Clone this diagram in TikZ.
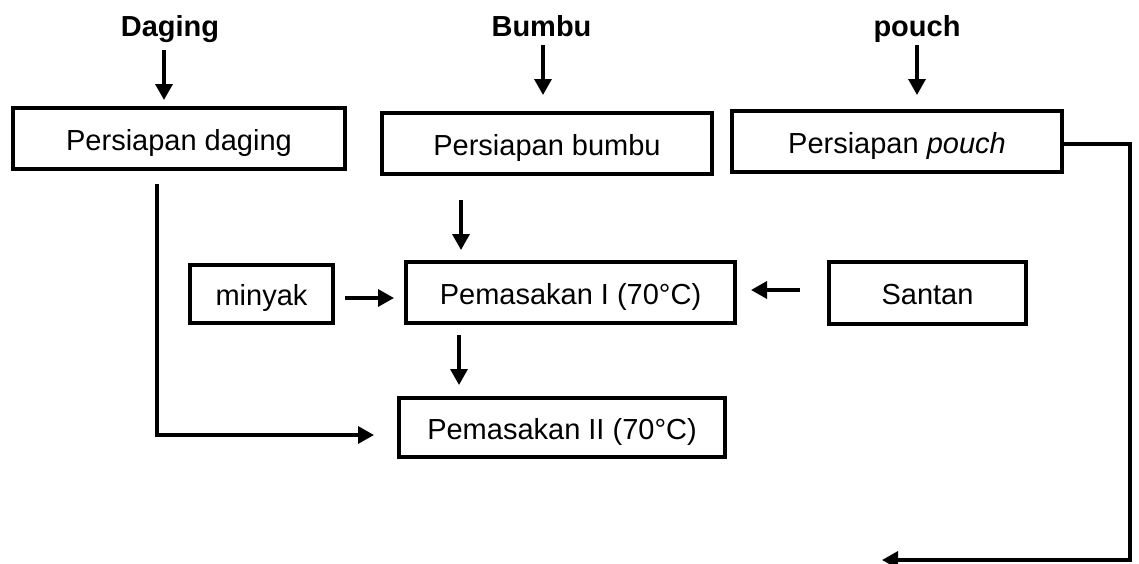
\documentclass[tikz,border=0pt]{standalone}
\usepackage{fontspec}
\setmainfont{Liberation Sans}
\usetikzlibrary{arrows.meta}
\begin{document}
\begin{tikzpicture}[x=1pt,y=-1pt,
  box/.style={draw=black,line width=3.4pt,rectangle,inner sep=0pt,
    text height=23pt,text depth=0pt,
    font=\fontsize{29}{34}\selectfont},
  lbl/.style={font=\fontsize{29}{34}\selectfont\bfseries,anchor=base,inner sep=0pt},
  arr/.style={line width=3.4pt,-{Triangle[length=16pt,width=17pt]}},
  conn/.style={line width=3.4pt}]
\fill[white] (0,0) rectangle (1139,563);
\clip (0,0) rectangle (1139,563);
% top labels
\node[lbl] (dg) at (170,36) {Daging};
\node[lbl] (bb) at (541.5,36) {Bumbu};
\node[lbl] (pc) at (917,36) {pouch};
% boxes
\node[box,minimum width=332pt,minimum height=61pt] (pd) at (179,138.5) {Persiapan daging};
\node[box,minimum width=330pt,minimum height=61pt] (pb) at (547,143.5) {Persiapan bumbu};
\node[box,minimum width=330pt,minimum height=61pt] (pp) at (897,141.5) {Persiapan \textit{pouch}};
\node[box,minimum width=143pt,minimum height=58pt] (mi) at (261.5,294) {minyak};
\node[box,minimum width=329pt,minimum height=61pt] (p1) at (570.5,292.5) {Pemasakan I (70°C)};
\node[box,minimum width=197pt,minimum height=62pt] (sa) at (927.5,293) {Santan};
\node[box,minimum width=326pt,minimum height=59pt] (p2) at (562,427.5) {Pemasakan II (70°C)};
% arrow end coordinates
\coordinate (a1s) at (164,50);  \coordinate (a1e) at (164,100);
\coordinate (a2s) at (543,45);  \coordinate (a2e) at (543,95);
\coordinate (a3s) at (917,45);  \coordinate (a3e) at (917,95);
\coordinate (a4s) at (461,200); \coordinate (a4e) at (461,250);
\coordinate (a5s) at (345,298); \coordinate (a5e) at (394,298);
\coordinate (a6s) at (800,290); \coordinate (a6e) at (751,290);
\coordinate (a7s) at (459,335); \coordinate (a7e) at (459,385);
\coordinate (d1) at (157,184);  \coordinate (d2) at (157,435); \coordinate (d3) at (374,435);
\coordinate (q1) at (1130,144); \coordinate (q2) at (1130,560); \coordinate (q3) at (882,560);
% connectors
\draw[arr] (a1s) -- (a1e);
\draw[arr] (a2s) -- (a2e);
\draw[arr] (a3s) -- (a3e);
\draw[arr] (a4s) -- (a4e);
\draw[arr] (a5s) -- (a5e);
\draw[arr] (a6s) -- (a6e);
\draw[arr] (a7s) -- (a7e);
\draw[arr] (d1) -- (d2) -- (d3);
\draw[arr] (pp.east |- q1) -- (q1) -- (q2) -- (q3);
\end{tikzpicture}
\end{document}
